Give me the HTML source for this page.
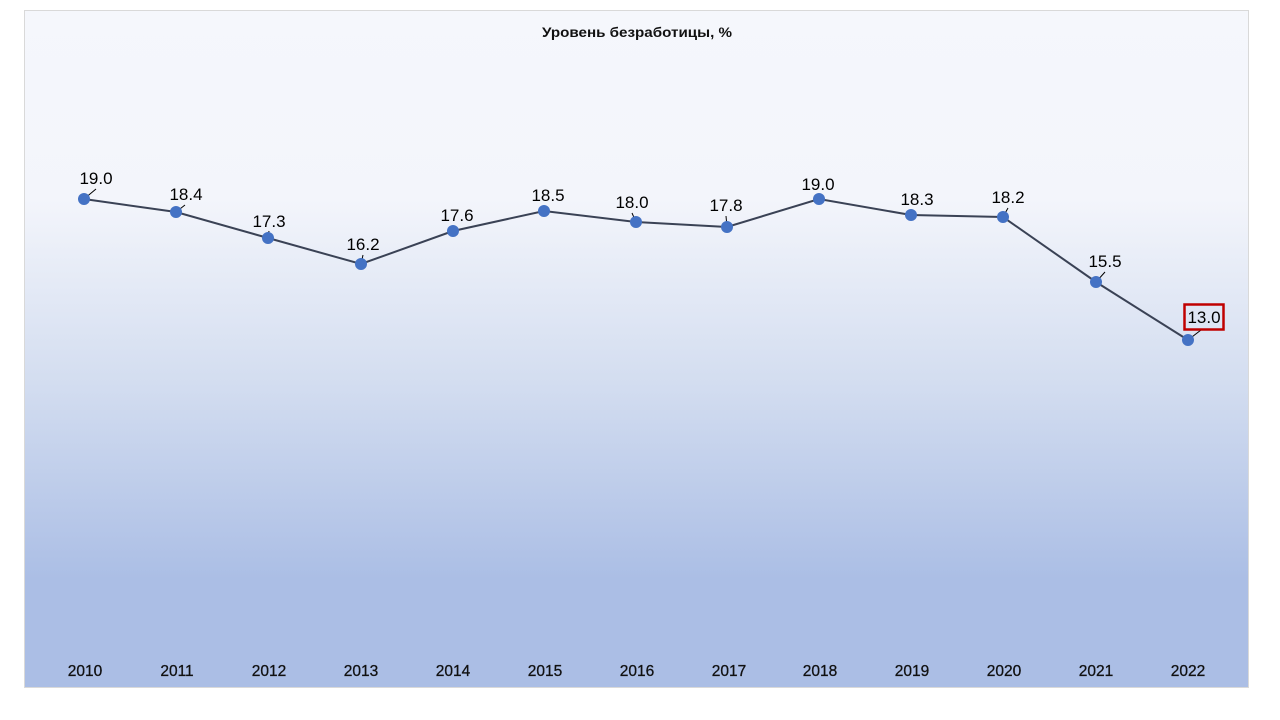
<!DOCTYPE html>
<html>
<head>
<meta charset="utf-8">
<style>
html,body{margin:0;padding:0;background:#ffffff;}
svg{display:block;}
text{font-family:"Liberation Sans","DejaVu Sans",sans-serif;}
</style>
</head>
<body>
<svg width="1280" height="720" viewBox="0 0 1280 720" xmlns="http://www.w3.org/2000/svg">
<defs>
<linearGradient id="bg" x1="0" y1="0" x2="0" y2="1">
<stop offset="0" stop-color="#f5f7fc"/>
<stop offset="0.28" stop-color="#f3f5fb"/>
<stop offset="0.55" stop-color="#d3ddf0"/>
<stop offset="0.84" stop-color="#abbee5"/>
<stop offset="1" stop-color="#abbee5"/>
</linearGradient>
</defs>
<rect x="0" y="0" width="1280" height="720" fill="#ffffff"/>
<rect x="24.5" y="10.5" width="1224" height="677" fill="url(#bg)" stroke="#d9d9d9" stroke-width="1"/>
<text x="637" y="37" text-anchor="middle" font-size="14" font-weight="bold" fill="#111" textLength="190" lengthAdjust="spacingAndGlyphs">Уровень безработицы, %</text>

<polyline fill="none" stroke="#3a4255" stroke-width="2" points="84,199 176,212 268,238 361,264 453,231 544,211 636,222 727,227 819,199 911,215 1003,217 1096,282 1188,340"/>

<g stroke="#000" stroke-width="1">
<line x1="84" y1="199" x2="96" y2="189"/>
<line x1="176" y1="212" x2="185" y2="205"/>
<line x1="268" y1="238" x2="269" y2="231"/>
<line x1="361" y1="264" x2="363" y2="255"/>
<line x1="636" y1="222" x2="632" y2="213"/>
<line x1="727" y1="227" x2="726" y2="216"/>
<line x1="1003" y1="217" x2="1008" y2="208"/>
<line x1="1096" y1="282" x2="1105" y2="272"/>
<line x1="1188" y1="340" x2="1201" y2="330"/>
</g>

<g fill="#4472c4">
<circle cx="84" cy="199" r="6"/>
<circle cx="176" cy="212" r="6"/>
<circle cx="268" cy="238" r="6"/>
<circle cx="361" cy="264" r="6"/>
<circle cx="453" cy="231" r="6"/>
<circle cx="544" cy="211" r="6"/>
<circle cx="636" cy="222" r="6"/>
<circle cx="727" cy="227" r="6"/>
<circle cx="819" cy="199" r="6"/>
<circle cx="911" cy="215" r="6"/>
<circle cx="1003" cy="217" r="6"/>
<circle cx="1096" cy="282" r="6"/>
<circle cx="1188" cy="340" r="6"/>
</g>

<g font-size="17" fill="#000" text-anchor="middle">
<text x="96" y="184">19.0</text>
<text x="186" y="200">18.4</text>
<text x="269" y="227">17.3</text>
<text x="363" y="250">16.2</text>
<text x="457" y="221">17.6</text>
<text x="548" y="201">18.5</text>
<text x="632" y="208">18.0</text>
<text x="726" y="211">17.8</text>
<text x="818" y="190">19.0</text>
<text x="917" y="205">18.3</text>
<text x="1008" y="203">18.2</text>
<text x="1105" y="267">15.5</text>
<text x="1204" y="323">13.0</text>
</g>
<rect x="1184.5" y="304.5" width="39" height="25" fill="none" stroke="#c00000" stroke-width="2.5"/>

<g font-size="15.5" fill="#111" stroke="#111" stroke-width="0.3" text-anchor="middle">
<text x="85" y="676">2010</text>
<text x="177" y="676">2011</text>
<text x="269" y="676">2012</text>
<text x="361" y="676">2013</text>
<text x="453" y="676">2014</text>
<text x="545" y="676">2015</text>
<text x="637" y="676">2016</text>
<text x="729" y="676">2017</text>
<text x="820" y="676">2018</text>
<text x="912" y="676">2019</text>
<text x="1004" y="676">2020</text>
<text x="1096" y="676">2021</text>
<text x="1188" y="676">2022</text>
</g>
</svg>
</body>
</html>
